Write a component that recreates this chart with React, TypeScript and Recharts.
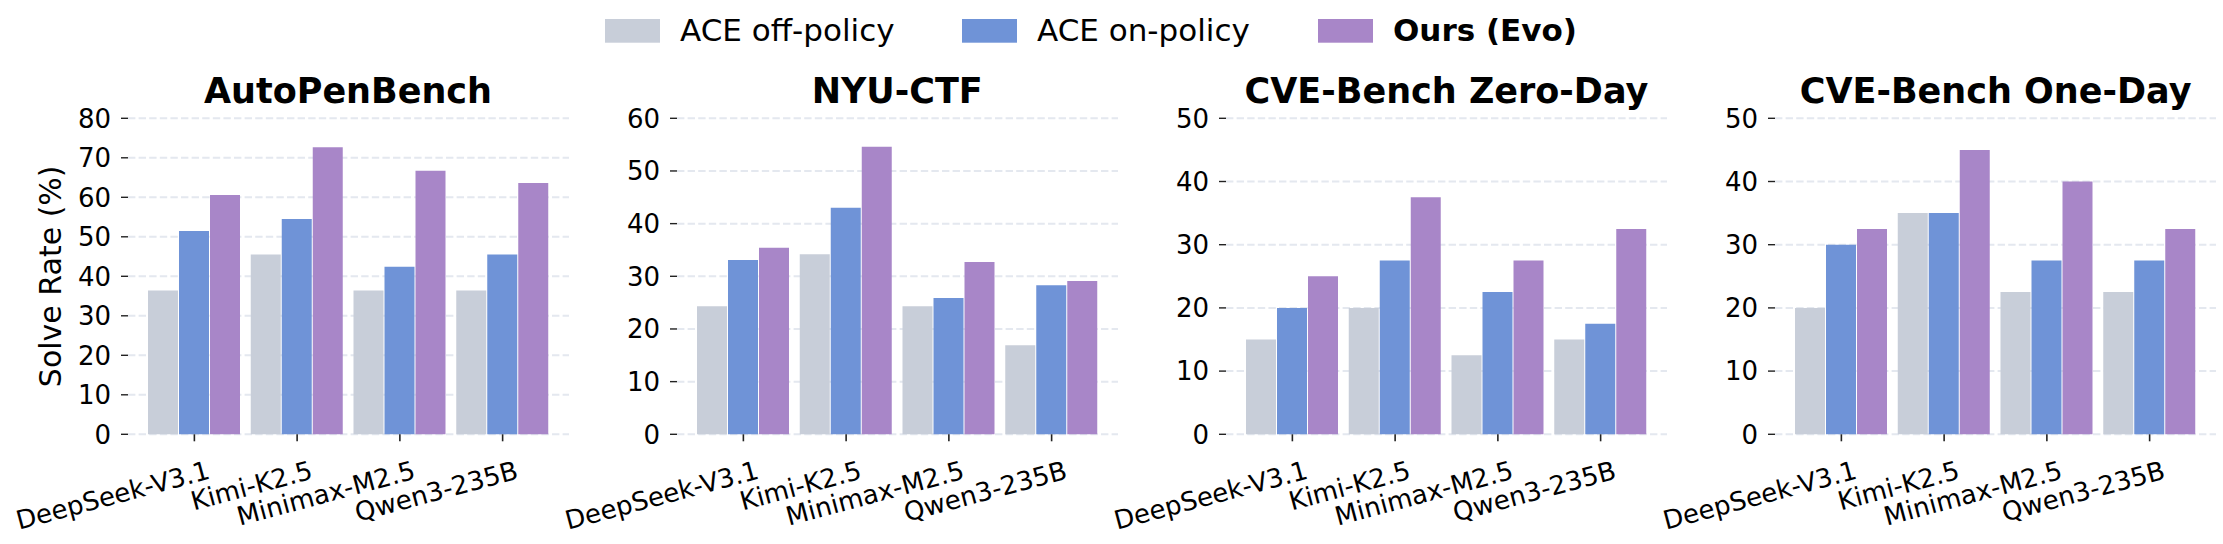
import { BarChart, Bar, XAxis, YAxis, CartesianGrid } from 'recharts';

const models = ['DeepSeek-V3.1', 'Kimi-K2.5', 'Minimax-M2.5', 'Qwen3-235B'];
const benchmarks = ['AutoPenBench', 'NYU-CTF', 'CVE-Bench Zero-Day', 'CVE-Bench One-Day'];
const yTicks = [
  [0, 10, 20, 30, 40, 50, 60, 70, 80],
  [0, 10, 20, 30, 40, 50, 60],
  [0, 10, 20, 30, 40, 50],
  [0, 10, 20, 30, 40, 50],
];

// solve rate (%), one row per benchmark, one value per model
const aceOffPolicy = [
  [36.4, 45.5, 36.4, 36.4],
  [24.3, 34.2, 24.3, 16.9],
  [15, 20, 12.5, 15],
  [20, 35, 22.5, 22.5],
];
const aceOnPolicy = [
  [51.5, 54.5, 42.4, 45.5],
  [33.1, 43.0, 25.9, 28.3],
  [20, 27.5, 22.5, 17.5],
  [30, 35, 27.5, 27.5],
];
const oursEvo = [
  [60.6, 72.7, 66.7, 63.6],
  [35.4, 54.6, 32.7, 29.1],
  [25, 37.5, 27.5, 32.5],
  [32.5, 45, 40, 32.5],
];

const series = [
  { key: 'off', name: 'ACE off-policy', color: '#c8ced9', bold: false },
  { key: 'on', name: 'ACE on-policy', color: '#6f93d7', bold: false },
  { key: 'evo', name: 'Ours (Evo)', color: '#a886c8', bold: true },
];

const W = 2223;
const H = 544;
const FONT = "'DejaVu Sans', sans-serif";
const PLOT_TOP = 118.3;
const PLOT_BOTTOM = 434.3;
const PLOT_W = 441;
const FIRST_LEFT = 127.5;
const PANEL_STEP = 549.2;
const LEFT_PAD = 127;
const YAXIS_W = 60;
const XAXIS_H = 60;
const LEGEND_X = [605, 962, 1318];
const TICK_FONT = 26;
const XLABEL_ANGLE = 15;

const XTick = (props: any) => {
  const { x, payload } = props;
  const tx = x + 12;
  const ty = 460;
  return (
    <text
      x={tx}
      y={ty}
      dy="0.73em"
      textAnchor="end"
      fontSize={TICK_FONT}
      fontFamily={FONT}
      fill="#000"
      transform={`rotate(-${XLABEL_ANGLE}, ${tx}, ${ty})`}
    >
      {payload.value}
    </text>
  );
};

function Panel({ idx }: { idx: number }) {
  const data = models.map((m, i) => ({
    model: m,
    off: aceOffPolicy[idx][i],
    on: aceOnPolicy[idx][i],
    evo: oursEvo[idx][i],
  }));
  const ticks = yTicks[idx];
  const left = FIRST_LEFT + idx * PANEL_STEP - LEFT_PAD;
  return (
    <div style={{ position: 'absolute', left, top: 0 }}>
      <BarChart
        width={LEFT_PAD + PLOT_W + 10}
        height={H}
        data={data}
        barGap={1}
        margin={{
          top: PLOT_TOP,
          right: 10,
          bottom: H - PLOT_BOTTOM - XAXIS_H,
          left: LEFT_PAD - YAXIS_W,
        }}
      >
        <CartesianGrid
          vertical={false}
          stroke="#e4e8ef"
          strokeWidth={2}
          strokeDasharray="7.4 3.2"
        />
        <XAxis
          dataKey="model"
          height={XAXIS_H}
          interval={0}
          axisLine={false}
          tickSize={7}
          tickLine={{ stroke: '#222', strokeWidth: 1.6 }}
          padding={{ left: 15, right: 15 }}
          tick={<XTick />}
        />
        <YAxis
          width={YAXIS_W}
          domain={[0, ticks[ticks.length - 1]]}
          ticks={ticks}
          interval={0}
          axisLine={false}
          tickSize={7}
          tickMargin={10}
          tickLine={{ stroke: '#222', strokeWidth: 1.4 }}
          tick={{ fontSize: TICK_FONT, fill: '#000', fontFamily: FONT }}
        />
        {series.map((s) => (
          <Bar
            key={s.key}
            dataKey={s.key}
            name={s.name}
            fill={s.color}
            barSize={30}
            isAnimationActive={false}
          />
        ))}
      </BarChart>
    </div>
  );
}

export default function App() {
  return (
    <div
      style={{
        position: 'absolute',
        left: 0,
        top: 0,
        width: W,
        height: H,
        background: '#fff',
        fontFamily: FONT,
        overflow: 'hidden',
      }}
    >
      {benchmarks.map((b, i) => (
        <Panel key={b} idx={i} />
      ))}
      <svg
        width={W}
        height={H}
        style={{ position: 'absolute', left: 0, top: 0, pointerEvents: 'none' }}
      >
        {series.map((s, i) => (
          <g key={s.key}>
            <rect x={LEGEND_X[i]} y={19} width={55} height={23.7} fill={s.color} />
            <text
              x={LEGEND_X[i] + 75}
              y={41}
              fontSize={31}
              fontFamily={FONT}
              fontWeight={s.bold ? 'bold' : 'normal'}
              fill="#000"
            >
              {s.name}
            </text>
          </g>
        ))}
        {benchmarks.map((b, i) => (
          <text
            key={b}
            x={FIRST_LEFT + i * PANEL_STEP + PLOT_W / 2}
            y={103}
            textAnchor="middle"
            fontSize={35}
            fontWeight="bold"
            fontFamily={FONT}
            fill="#000"
          >
            {b}
          </text>
        ))}
        <text
          x={61}
          y={(PLOT_TOP + PLOT_BOTTOM) / 2}
          textAnchor="middle"
          fontSize={30}
          fontFamily={FONT}
          fill="#000"
          transform={`rotate(-90, 61, ${(PLOT_TOP + PLOT_BOTTOM) / 2})`}
        >
          Solve Rate (%)
        </text>
      </svg>
    </div>
  );
}
